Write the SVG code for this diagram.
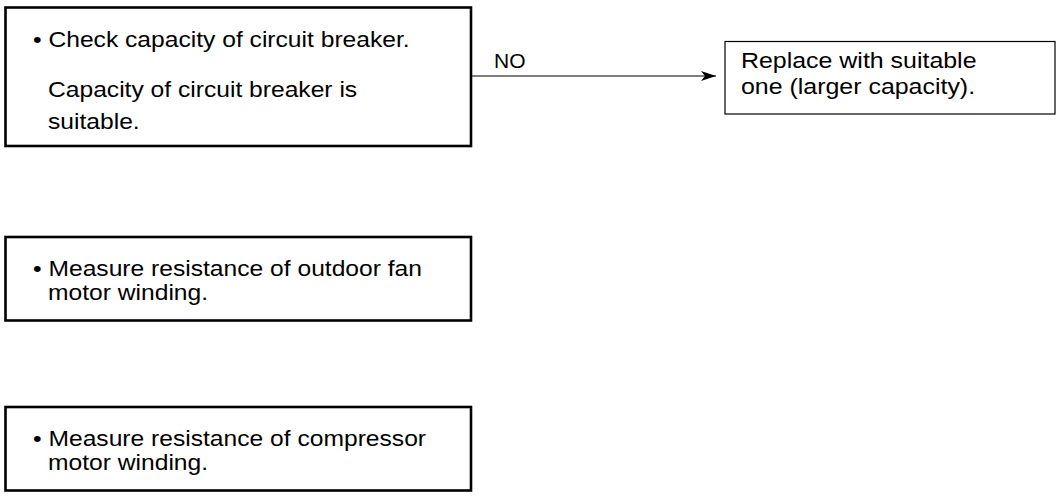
<svg xmlns="http://www.w3.org/2000/svg" width="1059" height="498" viewBox="0 0 1059 498">
<style>
.box{fill:#fff;stroke:#000;stroke-width:2.6}
.box2{fill:#fff;stroke:#000;stroke-width:1.2}
.t{font-family:"Liberation Sans",Arial,sans-serif;font-size:21.5px;fill:#000}
.conn{stroke:#000;stroke-width:1.2;fill:none}
</style>
<defs>
<marker id="arr" markerUnits="userSpaceOnUse" markerWidth="16" markerHeight="12" refX="15" refY="5" orient="auto">
<path d="M0,0 L15,5 L0,10 L4,5 z" fill="#000"/>
</marker>
</defs>
<g id="n1">
<rect class="box" x="5.5" y="7.5" width="465.5" height="138.5"/>
<text class="t" transform="translate(33,47) scale(1.145 1)">• Check capacity of circuit breaker.</text>
<text class="t" transform="translate(48,97) scale(1.145 1)">Capacity of circuit breaker is</text>
<text class="t" transform="translate(48,129) scale(1.145 1)">suitable.</text>
</g>
<g id="n2">
<rect class="box2" x="725" y="41.5" width="330" height="72.5"/>
<text class="t" transform="translate(741,68) scale(1.16 1)">Replace with suitable</text>
<text class="t" transform="translate(741,94) scale(1.16 1)">one (larger capacity).</text>
</g>
<g id="n3">
<rect class="box" x="5.5" y="237" width="465.5" height="83.5"/>
<text class="t" transform="translate(33,276) scale(1.145 1)">• Measure resistance of outdoor fan</text>
<text class="t" transform="translate(48,300) scale(1.145 1)">motor winding.</text>
</g>
<g id="n4">
<rect class="box" x="5.5" y="407" width="465.5" height="83.5"/>
<text class="t" transform="translate(33,446) scale(1.145 1)">• Measure resistance of compressor</text>
<text class="t" transform="translate(48,470) scale(1.145 1)">motor winding.</text>
</g>
<g id="connectors">
<line class="conn" x1="471" y1="76" x2="716" y2="76" marker-end="url(#arr)"/>
<text class="t" style="font-size:21px" x="494" y="68">NO</text>
</g>
</svg>
